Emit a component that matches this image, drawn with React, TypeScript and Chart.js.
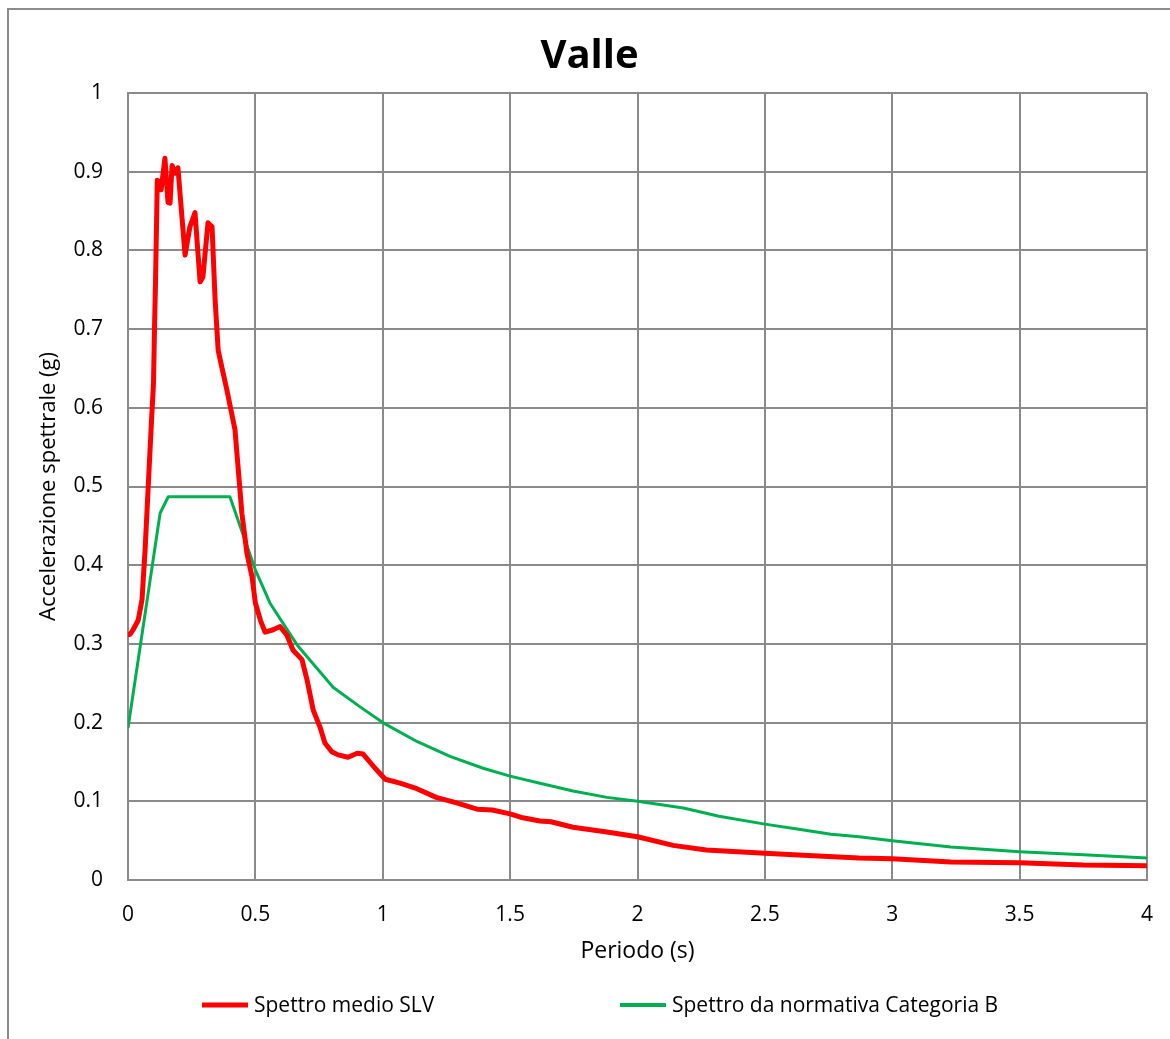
import React, { useEffect, useRef } from 'react';
import { Chart, registerables } from 'chart.js';

Chart.register(...registerables);

const FONT = '"Open Sans", Lato, "Noto Sans", sans-serif';

const chartTitle = 'Valle';
const xAxisTitle = 'Periodo (s)';
const yAxisTitle = 'Accelerazione spettrale (g)';
const seriesNames = ['Spettro medio SLV', 'Spettro da normativa Categoria B'];
const seriesColors = ['#ff0000', '#00b050'];

const xTickValues = [0, 0.5, 1, 1.5, 2, 2.5, 3, 3.5, 4];
const yTickValues = [0, 0.1, 0.2, 0.3, 0.4, 0.5, 0.6, 0.7, 0.8, 0.9, 1];

const redPeriods = [
  0, 0.008, 0.02, 0.04, 0.055, 0.067, 0.08, 0.093, 0.1, 0.104, 0.108, 0.115,
  0.122, 0.13, 0.145, 0.157, 0.165, 0.173, 0.185, 0.196, 0.224, 0.243, 0.263,
  0.283, 0.294, 0.314, 0.33, 0.342, 0.354, 0.368, 0.388, 0.42, 0.432, 0.447,
  0.467, 0.487, 0.5, 0.52, 0.538, 0.57, 0.597, 0.624, 0.648, 0.683, 0.703,
  0.727, 0.754, 0.773, 0.8, 0.825, 0.864, 0.9, 0.923, 0.97, 1.01, 1.068,
  1.134, 1.21, 1.29, 1.37, 1.43, 1.5, 1.55, 1.617, 1.66, 1.747, 1.88, 2.0,
  2.14, 2.27, 2.5, 2.67, 2.87, 3.0, 3.23, 3.5, 3.75, 4.0,
];
const redValues = [
  0.312, 0.312, 0.318, 0.33, 0.356, 0.419, 0.504, 0.588, 0.63, 0.7, 0.76, 0.889,
  0.887, 0.877, 0.917, 0.861, 0.86, 0.908, 0.898, 0.905, 0.794, 0.83, 0.848,
  0.76, 0.766, 0.835, 0.83, 0.737, 0.673, 0.652, 0.623, 0.572, 0.525, 0.466,
  0.415, 0.385, 0.352, 0.33, 0.315, 0.318, 0.322, 0.311, 0.292, 0.28, 0.254,
  0.216, 0.194, 0.174, 0.163, 0.159, 0.156, 0.161, 0.16, 0.142, 0.128, 0.123,
  0.116, 0.105, 0.098, 0.09, 0.089, 0.084, 0.079, 0.075, 0.074, 0.067, 0.061, 0.055,
  0.044, 0.038, 0.034, 0.031, 0.028, 0.027, 0.023, 0.022, 0.019, 0.018,
];

const greenPeriods = [
  0, 0.126, 0.158, 0.4, 0.5, 0.557, 0.663, 0.805, 0.911, 1.0, 1.134, 1.264,
  1.394, 1.5, 1.617, 1.747, 1.88, 2.0, 2.18, 2.32, 2.5, 2.62, 2.76, 2.87,
  3.0, 3.23, 3.5, 3.75, 4.0,
];
const greenValues = [
  0.193, 0.466, 0.487, 0.487, 0.394, 0.352, 0.299, 0.245, 0.22, 0.2, 0.176, 0.157,
  0.142, 0.132, 0.123, 0.113, 0.105, 0.1, 0.0915, 0.081, 0.071, 0.065, 0.058, 0.055,
  0.05, 0.042, 0.036, 0.032, 0.028,
];

const GRID = '#8a8a8a';

const legendPlugin = {
  id: 'excelLegend',
  afterDraw(chart: any) {
    const ctx = chart.ctx;
    const y = 995;
    const starts = [193, 611];
    chart.data.datasets.forEach((ds: any, i: number) => {
      ctx.save();
      ctx.strokeStyle = ds.borderColor;
      ctx.lineWidth = i === 0 ? 5 : 4;
      ctx.lineCap = 'butt';
      ctx.beginPath();
      ctx.moveTo(starts[i], y);
      ctx.lineTo(starts[i] + 46, y);
      ctx.stroke();
      ctx.fillStyle = '#000';
      ctx.font = `21px ${FONT}`;
      ctx.textBaseline = 'middle';
      ctx.textAlign = 'left';
      ctx.fillText(ds.label, starts[i] + 52, y + 1);
      ctx.restore();
    });
  },
};

export default function App() {
  const ref = useRef<HTMLCanvasElement>(null);

  useEffect(() => {
    const redData = redPeriods.map((t, i) => ({ x: t, y: redValues[i] }));
    const greenData = greenPeriods.map((t, i) => ({ x: t, y: greenValues[i] }));

    const chart = new Chart(ref.current as HTMLCanvasElement, {
      type: 'line',
      data: {
        datasets: [
          {
            label: seriesNames[0],
            data: redData,
            borderColor: seriesColors[0],
            backgroundColor: seriesColors[0],
            borderWidth: 5,
            pointRadius: 0,
            tension: 0,
            borderJoinStyle: 'round',
            borderCapStyle: 'round',
          },
          {
            label: seriesNames[1],
            data: greenData,
            borderColor: seriesColors[1],
            backgroundColor: seriesColors[1],
            borderWidth: 3,
            pointRadius: 0,
            tension: 0,
            borderJoinStyle: 'round',
          },
        ],
      },
      options: {
        responsive: false,
        animation: false,
        events: [],
        layout: { padding: { left: 23, right: 23, top: 0, bottom: 69 } },
        plugins: {
          legend: { display: false },
          tooltip: { enabled: false },
          title: {
            display: true,
            text: chartTitle,
            color: '#000',
            font: { family: FONT, size: 40, weight: 'bold' },
            padding: { top: 23, bottom: 12 },
          },
        },
        scales: {
          x: {
            type: 'linear',
            min: 0,
            max: 4,
            afterBuildTicks: (scale: any) => {
              scale.ticks = xTickValues.map((v) => ({ value: v }));
            },
            afterFit: (scale: any) => {
              scale.height = 90;
            },
            ticks: {
              padding: 0,
              color: '#000',
              font: { family: FONT, size: 21 },
              callback: (v: any) => String(v),
              maxRotation: 0,
            },
            grid: {
              color: GRID,
              lineWidth: 2,
              drawTicks: true,
              tickLength: 22,
              tickColor: 'rgba(0,0,0,0)',
            },
            border: { display: true, color: GRID, width: 2 },
            title: {
              display: true,
              text: xAxisTitle,
              color: '#000',
              font: { family: FONT, size: 23 },
              padding: { top: 0, bottom: 5 },
            },
          },
          y: {
            type: 'linear',
            min: 0,
            max: 1,
            afterBuildTicks: (scale: any) => {
              scale.ticks = yTickValues.map((v) => ({ value: v }));
            },
            afterFit: (scale: any) => {
              scale.width = 96;
            },
            ticks: {
              padding: 25,
              color: '#000',
              font: { family: FONT, size: 21 },
              callback: (v: any) => String(v),
            },
            grid: { color: GRID, lineWidth: 2, drawTicks: false },
            border: { display: true, color: GRID, width: 2 },
            title: {
              display: true,
              text: yAxisTitle,
              color: '#000',
              font: { family: FONT, size: 22 },
              padding: { top: 4, bottom: 0 },
            },
          },
        },
      },
      plugins: [legendPlugin],
    } as any);

    return () => chart.destroy();
  }, []);

  return (
    <div
      style={{
        position: 'fixed',
        left: 7,
        top: 8,
        width: 1163,
        height: 1031,
        borderLeft: '2px solid #8c8c8c',
        borderTop: '2px solid #8c8c8c',
        boxSizing: 'border-box',
        background: '#fff',
      }}
    >
      <canvas ref={ref} width={1161} height={1029} style={{ display: 'block', width: 1161, height: 1029 }} />
    </div>
  );
}
